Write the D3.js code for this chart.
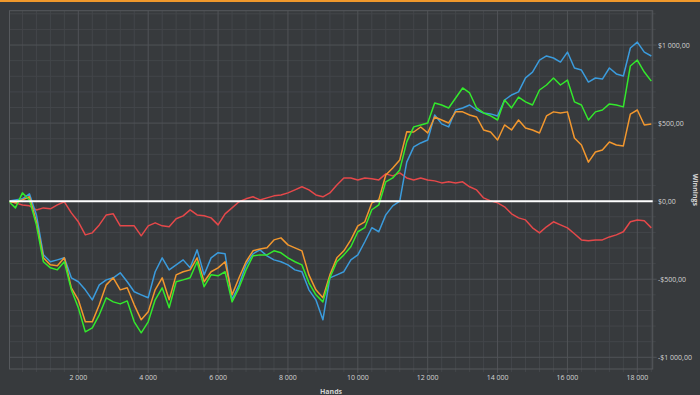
<!DOCTYPE html>
<html><head><meta charset="utf-8">
<script src="https://cdn.jsdelivr.net/npm/d3@7"></script>
<style>html,body{margin:0;padding:0;background:#373a3d;overflow:hidden}</style>
</head><body>
<svg id="c" width="700" height="395"></svg>
<script>
// ---- data (hands every 200) ----
const hands = d3.range(0, 18401, 200);
const blue = [0,8,15,47,-88,-343,-388,-376,-363,-491,-516,-568,-632,-536,-504,-491,-459,-516,-580,-600,-619,-452,-363,-440,-408,-376,-427,-312,-472,-363,-330,-337,-632,-536,-408,-337,-312,-350,-376,-388,-408,-440,-452,-568,-632,-760,-491,-472,-452,-376,-344,-260,-170,-196,-88,-30,0,250,348,373,392,552,495,476,584,597,616,584,565,559,546,648,680,700,790,827,904,930,917,891,955,853,840,763,789,782,853,815,802,981,1019,955,930];
const orange = [0,-11,8,28,-132,-363,-408,-414,-363,-555,-632,-773,-773,-664,-536,-491,-568,-555,-664,-760,-709,-568,-491,-632,-472,-452,-440,-363,-516,-452,-427,-388,-600,-491,-388,-318,-306,-299,-248,-235,-280,-299,-318,-472,-568,-619,-472,-363,-318,-248,-158,-132,-11,8,168,213,264,444,443,475,437,539,520,501,572,572,552,539,456,443,392,488,456,520,469,456,437,546,572,565,572,405,360,250,315,328,379,360,354,558,584,488,495];
const green = [0,-43,53,8,-152,-388,-427,-440,-388,-568,-683,-837,-811,-728,-619,-645,-658,-639,-773,-843,-773,-632,-555,-683,-516,-504,-491,-388,-548,-472,-478,-452,-645,-555,-440,-350,-344,-344,-318,-331,-363,-388,-408,-523,-600,-645,-491,-388,-344,-292,-196,-170,-55,-24,124,149,200,380,476,488,501,629,616,597,661,725,693,597,565,546,520,648,597,667,636,616,712,744,789,744,776,636,616,520,572,584,623,616,604,866,904,827,769];
const red = [0,-11,-24,-30,-56,-43,-49,-24,-4,-75,-132,-216,-203,-152,-88,-81,-158,-158,-158,-222,-158,-139,-158,-164,-113,-94,-56,-88,-94,-107,-152,-81,-43,-4,15,28,8,21,34,40,53,72,92,72,40,28,53,104,149,149,136,149,143,136,175,162,181,149,136,149,136,130,117,124,117,124,92,72,21,2,-11,-36,-81,-107,-120,-171,-203,-164,-132,-152,-171,-209,-248,-254,-248,-248,-229,-216,-196,-132,-120,-126,-171];
const xTicks = [2000,4000,6000,8000,10000,12000,14000,16000,18000];
const yTicks = [-1000,-500,0,500,1000];
const seriesColors = {red:"#e5484a", blue:"#3b9bdc", orange:"#f2972e", green:"#33e82c"};

const svg = d3.select("#c");
const W = 700, H = 395;
const L = 9.5, R = 652.7, T = 10.7, B = 369;
const x = d3.scaleLinear().domain([30, 18440]).range([L, R]);
const y = d3.scaleLinear().domain([-1075, 1220]).range([B, T]);

svg.append("rect").attr("width", W).attr("height", H).attr("fill", "#373a3d");
svg.append("rect").attr("width", W).attr("height", 2).attr("fill", "#f0992c");

const fmtH = d => d3.format(",")(d).replace(/,/g, " ");
const fmtY = d => {
  const s = d3.format(",.2f")(Math.abs(d)).replace(/,/g, " ").replace(".", ",");
  return (d < 0 ? "-$" : "$") + s;
};

// minor grid
const g = svg.append("g");
const minorX = d3.range(400, 18441, 400).filter(v => v % 2000 !== 0);
const minorY = d3.range(-1000, 1221, 100).filter(v => v % 500 !== 0);
g.selectAll("line.mx").data(minorX).join("line")
  .attr("x1", d => x(d)).attr("x2", d => x(d)).attr("y1", T).attr("y2", B + 3)
  .attr("stroke", "#43464a").attr("stroke-width", 1);
g.selectAll("line.my").data(minorY).join("line")
  .attr("x1", L).attr("x2", R + 3).attr("y1", d => y(d)).attr("y2", d => y(d))
  .attr("stroke", "#43464a").attr("stroke-width", 1);
// major grid
g.selectAll("line.Mx").data(xTicks).join("line")
  .attr("x1", d => x(d)).attr("x2", d => x(d)).attr("y1", T).attr("y2", B + 4)
  .attr("stroke", "#505357").attr("stroke-width", 1);
g.selectAll("line.My").data(yTicks).join("line")
  .attr("x1", L).attr("x2", R + 4).attr("y1", d => y(d)).attr("y2", d => y(d))
  .attr("stroke", "#505357").attr("stroke-width", 1);
// border
svg.append("rect").attr("x", L).attr("y", T).attr("width", R - L).attr("height", B - T)
  .attr("fill", "none").attr("stroke", "#56595d").attr("stroke-width", 1);

// series
svg.append("clipPath").attr("id", "clip").append("rect")
  .attr("x", L).attr("y", T).attr("width", R - L).attr("height", B - T);
const line = d3.line().x((d, i) => x(hands[i])).y(d => y(d));
const data = [["red", red], ["blue", blue], ["orange", orange], ["green", green]];
const sg = svg.append("g").attr("clip-path", "url(#clip)");
sg.selectAll("path").data(data).join("path")
  .attr("d", d => line(d[1])).attr("fill", "none")
  .attr("stroke", d => seriesColors[d[0]]).attr("stroke-width", 1.5)
  .attr("stroke-linejoin", "round");

// zero line
svg.append("line").attr("x1", L).attr("x2", R).attr("y1", y(0)).attr("y2", y(0))
  .attr("stroke", "#ffffff").attr("stroke-width", 2);

// labels
const font = "'Open Sans', sans-serif";
svg.selectAll("text.xt").data(xTicks).join("text")
  .attr("x", d => x(d)).attr("y", 379.5).attr("text-anchor", "middle")
  .attr("font-family", font).attr("font-size", 7).attr("fill", "#d4d4d4").text(fmtH);
svg.selectAll("text.yt").data(yTicks).join("text")
  .attr("x", 658).attr("y", d => y(d) + 2.5).attr("text-anchor", "start")
  .attr("font-family", font).attr("font-size", 7).attr("fill", "#d4d4d4").text(fmtY);
svg.append("text").attr("x", 331).attr("y", 394).attr("text-anchor", "middle")
  .attr("font-family", font).attr("font-size", 7).attr("font-weight", "bold")
  .attr("fill", "#d4d4d4").text("Hands");
svg.append("text").attr("transform", "translate(693," + ((T + B) / 2) + ") rotate(90)")
  .attr("text-anchor", "middle").attr("font-family", font).attr("font-size", 7)
  .attr("font-weight", "bold").attr("fill", "#d4d4d4").text("Winnings");
</script>
</body></html>
